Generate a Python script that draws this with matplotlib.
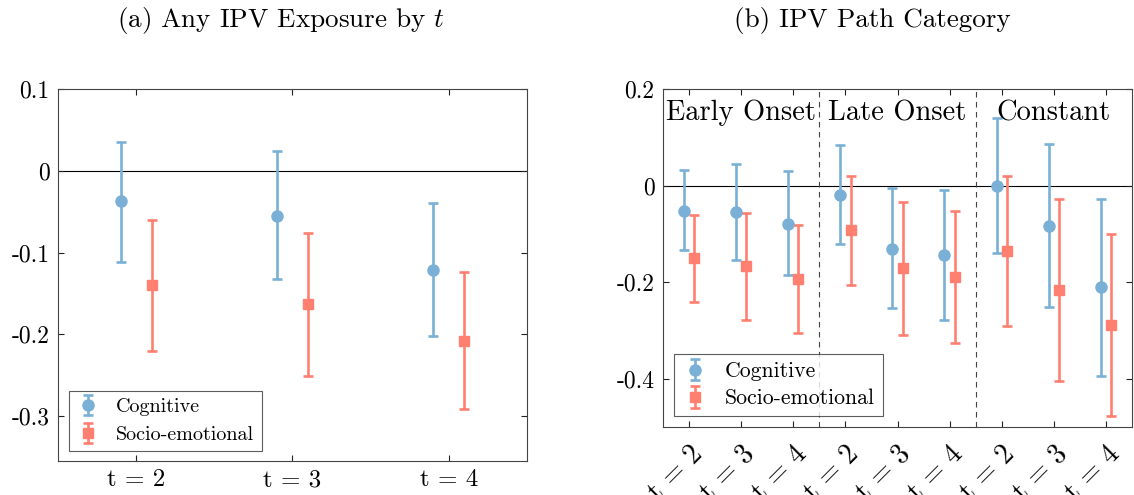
import numpy as np
import matplotlib
matplotlib.use("Agg")
import matplotlib.pyplot as plt

plt.rcParams["font.family"] = "cmr10"
plt.rcParams["mathtext.fontset"] = "cm"
plt.rcParams["axes.unicode_minus"] = False

BLUE = "#7BB0D6"
RED = "#FF8070"

# ── Panel (a): any IPV exposure by t ────────────────────────────────
a_ticks = ["t = 2", "t = 3", "t = 4"]
a_cog = [-0.037, -0.055, -0.121]
a_cog_lo = [-0.111, -0.133, -0.202]
a_cog_hi = [0.035, 0.024, -0.040]
a_soc = [-0.140, -0.163, -0.208]
a_soc_lo = [-0.221, -0.251, -0.292]
a_soc_hi = [-0.060, -0.076, -0.124]

# ── Panel (b): IPV path category ────────────────────────────────────
b_groups = ["Early Onset", "Late Onset", "Constant"]
b_ticks = ["t = 2", "t = 3", "t = 4"] * 3
b_cog = [-0.052, -0.055, -0.079, -0.019, -0.131, -0.144, 0.000, -0.083, -0.211]
b_cog_lo = [-0.134, -0.155, -0.186, -0.120, -0.254, -0.278, -0.140, -0.252, -0.394]
b_cog_hi = [0.032, 0.044, 0.031, 0.085, -0.006, -0.010, 0.140, 0.086, -0.027]
b_soc = [-0.151, -0.167, -0.194, -0.093, -0.171, -0.189, -0.135, -0.217, -0.289]
b_soc_lo = [-0.242, -0.279, -0.305, -0.205, -0.309, -0.327, -0.290, -0.404, -0.477]
b_soc_hi = [-0.060, -0.056, -0.081, 0.020, -0.034, -0.052, 0.019, -0.027, -0.100]


def yerr(mid, lo, hi):
    mid, lo, hi = map(np.asarray, (mid, lo, hi))
    return np.vstack([mid - lo, hi - mid])


def draw(ax, x, mid, lo, hi, color, marker, ms, label):
    ax.errorbar(x, mid, yerr=yerr(mid, lo, hi), fmt=marker, color=color,
                ms=ms, elinewidth=1.9, capsize=3.8, capthick=1.9,
                label=label, zorder=3)


def style(ax):
    for s in ax.spines.values():
        s.set_color("#444444")
        s.set_linewidth(0.8)
    ax.tick_params(direction="in", top=True, right=True, length=4,
                   width=0.8, color="#222222", labelsize=17, pad=6)
    ax.axhline(0, color="black", lw=0.8, zorder=1)


def add_legend(ax, size, anchor, spacing):
    leg = ax.legend(loc="lower left", fontsize=size, frameon=True, fancybox=False,
                    edgecolor="#333333", borderpad=0.35, handletextpad=0.8,
                    handlelength=1.2, borderaxespad=0,
                    bbox_to_anchor=anchor, labelspacing=spacing)
    leg.get_frame().set_linewidth(0.8)


fig = plt.figure(figsize=(11.34, 4.95), dpi=100)

# panel (a)
ax1 = fig.add_axes([58 / 1134, 1 - 461 / 495, 469 / 1134, 372 / 495])
xa = np.arange(2, 2 + len(a_ticks))
draw(ax1, xa - 0.1, a_cog, a_cog_lo, a_cog_hi, BLUE, "o", 8, "Cognitive")
draw(ax1, xa + 0.1, a_soc, a_soc_lo, a_soc_hi, RED, "s", 7, "Socio-emotional")
style(ax1)
ax1.set_xlim(1.5, 4.5)
ax1.set_ylim(-0.355, 0.1)
ax1.set_xticks(xa)
ax1.set_xticklabels(a_ticks, fontsize=18)
ax1.set_yticks([-0.3, -0.2, -0.1, 0, 0.1])
ax1.set_yticklabels(["-0.3", "-0.2", "-0.1", "0", "0.1"])
add_legend(ax1, 14.5, (11 / 469, 10 / 372), 0.5)
fig.text(281 / 1134, 1 - 21 / 495, r"(a) Any IPV Exposure by $t$",
         ha="center", va="center", fontsize=19.5)

# panel (b)
ax2 = fig.add_axes([663 / 1134, 1 - 427 / 495, 469 / 1134, 338 / 495])
xb = np.arange(1, 1 + len(b_ticks))
draw(ax2, xb - 0.1, b_cog, b_cog_lo, b_cog_hi, BLUE, "o", 8, "Cognitive")
draw(ax2, xb + 0.1, b_soc, b_soc_lo, b_soc_hi, RED, "s", 7, "Socio-emotional")
style(ax2)
for xv in (3.5, 6.5):
    ax2.axvline(xv, color="#444444", lw=0.8, ls=(0, (5, 4)), zorder=1)
for i, g in enumerate(b_groups):
    ax2.text(2 + 3 * i, 0.15, g, ha="center", va="center", fontsize=20.5)
ax2.set_xlim(0.5, 9.5)
ax2.set_ylim(-0.5, 0.2)
ax2.set_xticks(xb)
ax2.set_xticklabels(b_ticks, rotation=45, ha="right", va="top",
                    rotation_mode="anchor", fontsize=20)
ax2.tick_params(axis="x", pad=10)
ax2.set_yticks([-0.4, -0.2, 0, 0.2])
ax2.set_yticklabels(["-0.4", "-0.2", "0", "0.2"])
add_legend(ax2, 15.7, (11 / 469, 11 / 338), 0.35)
fig.text(872 / 1134, 1 - 21 / 495, "(b) IPV Path Category",
         ha="center", va="center", fontsize=19.5)

fig.savefig("out.png", dpi=100)
